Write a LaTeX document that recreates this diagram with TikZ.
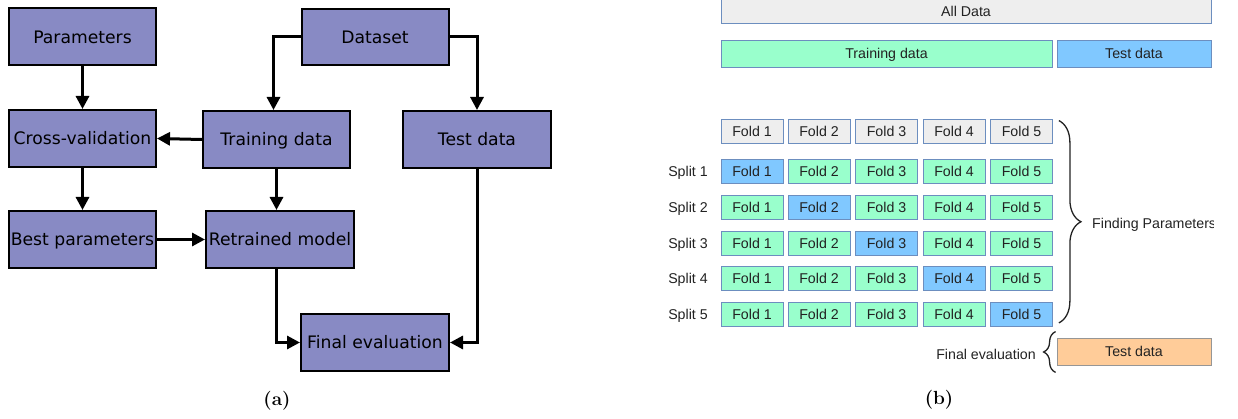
\documentclass[tikz,border=0pt]{standalone}
\usepackage{fontspec}
\newfontfamily\dejavu{DejaVu Sans}
\newfontfamily\arialf{Liberation Sans}
\usetikzlibrary{arrows.meta,decorations.pathreplacing,calc}
\definecolor{boxblue}{RGB}{136,138,196}
\definecolor{fgray}{RGB}{238,238,238}
\definecolor{fgreen}{RGB}{153,255,204}
\definecolor{fblue}{RGB}{128,200,255}
\definecolor{forange}{RGB}{255,204,153}
\definecolor{fborder}{RGB}{108,142,191}
\definecolor{oborder}{RGB}{150,150,150}
\definecolor{ftext}{RGB}{34,34,34}
\begin{document}
\begin{tikzpicture}[x=1pt,y=-1pt,
  abox/.style={draw=black, line width=2pt, fill=boxblue, minimum width=147pt, minimum height=57pt, inner sep=0pt, text height=12.6pt, text depth=0.2pt, font=\dejavu\fontsize{17.2}{20}\selectfont},
  arr/.style={line width=3pt, -{Triangle[length=13pt,width=13pt]}},
  fold/.style={draw=fborder, line width=0.8pt, minimum width=62pt, minimum height=24pt, inner sep=0pt, text height=10.4pt, text depth=0.2pt, font=\arialf\fontsize{14.2}{16}\selectfont, text=ftext},
  bar/.style={draw=fborder, line width=0.8pt, minimum height=27pt, inner sep=0pt, text height=10.4pt, text depth=0.2pt, font=\arialf\fontsize{14.2}{16}\selectfont, text=ftext},
  lab/.style={inner sep=0pt, text height=10.4pt, text depth=0.2pt, font=\arialf\fontsize{14.2}{16}\selectfont, text=ftext},
  captxt/.style={inner sep=0pt, font=\bfseries\fontsize{19}{22}\selectfont},
  brc/.style={decorate, line width=1.3pt, draw=ftext}
]
\useasboundingbox (0,0) rectangle (1238,419);
% ---------- (a)
\node[abox] (params) at (82.5,37) {Parameters};
\node[abox, minimum height=56pt] (dataset) at (375,37) {Dataset};
\node[abox] (cv) at (82.5,138.5) {Cross-validation};
\node[abox] (train) at (276.5,139.5) {Training data};
\node[abox, minimum width=148pt] (test) at (477,139.5) {Test data};
\node[abox] (best) at (82.5,239.5) {Best parameters};
\node[abox, minimum width=148pt] (retr) at (280,239.5) {Retrained model};
\node[abox, minimum width=148pt] (final) at (375,342.5) {Final evaluation};
\draw[arr] (params.south) -- (cv.north);
\draw[arr] (cv.south) -- (best.north);
\draw[arr] (dataset.west) -| ([xshift=-3pt]train.north);
\draw[arr] (dataset.east) -| (test.north);
\draw[arr] (train.west) -- (cv.east);
\draw[arr] (train.south) -- (train.south |- retr.north);
\draw[arr] (best.east) -- (retr.west);
\draw[arr] (train.south |- retr.south) |- (final.west);
\draw[arr] (test.south) |- (final.east);
\node[captxt] (capa) at (277,401) {(a)};
% ---------- (b)
\node[bar, fill=fgray, minimum width=490pt, minimum height=24pt] (all) at (966,11) {All Data};
\node[bar, fill=fgreen, minimum width=331pt] (trbar) at (886.5,53.5) {Training data};
\node[bar, fill=fblue, minimum width=154pt] (tebar) at (1134,53.5) {Test data};
\foreach \c/\x in {1/752,2/819,3/886.5,4/954,5/1021.5}{
  \node[fold, fill=fgray] (h\c) at (\x,131) {Fold \c};
}
\foreach \r/\y in {1/171,2/207,3/243,4/278.5,5/314.5}{
  \node[lab] (sl\r) at (688,\y) {Split \r};
  \foreach \c/\x in {1/752,2/819,3/886.5,4/954,5/1021.5}{
    \ifnum\r=\c\relax
      \node[fold, fill=fblue] (f\r\c) at (\x,\y) {Fold \c};
    \else
      \node[fold, fill=fgreen] (f\r\c) at (\x,\y) {Fold \c};
    \fi
  }
}
\node[bar, fill=forange, draw=oborder, minimum width=154pt] (ftest) at (1134,351.5) {Test data};
\draw[brc, decoration={brace, amplitude=22pt}] ([xshift=6pt,yshift=-2pt]h5.north east) -- ([xshift=6pt,yshift=4pt]f55.south east);
\begin{scope}
\clip (0,0) rectangle (1213,419);
\node[lab, anchor=west] (fp) at (1092,223) {Finding Parameters};
\end{scope}
\draw[brc, decoration={brace, amplitude=12pt}] ([xshift=-1pt,yshift=-7pt]ftest.south west) -- ([xshift=-1pt,yshift=6pt]ftest.north west);
\node[lab] (fe) at (986,354) {Final evaluation};
\node[captxt] (capb) at (939,400) {(b)};
\end{tikzpicture}
\end{document}
